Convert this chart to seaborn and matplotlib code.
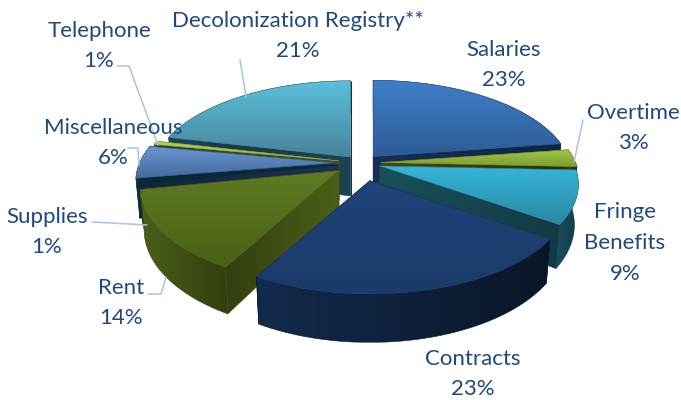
import matplotlib
matplotlib.use("Agg")
import matplotlib.pyplot as plt
import numpy as np
import seaborn as sns
from matplotlib.patches import Polygon

# budget shares, clockwise from 12 o'clock
names = ["Salaries", "Overtime", "Fringe\nBenefits", "Contracts", "Rent", "Supplies",
         "Miscellaneous", "Telephone", "Decolonization Registry**"]
values = [22.7, 3, 9, 23.3, 13.8, 0.6, 5.6, 0.6, 21.4]
explode = [0.095, 0.10, 0.10, 0.20, 0.14, 0.12, 0.135, 0.115, 0.085]

# (top light, top dark, side light, side dark)
colors = [
    ("#3f7fc9", "#2d5c96", "#16305a", "#0f2345"),
    ("#9fc544", "#7c9c33", "#45450f", "#2f2f08"),
    ("#35b5d9", "#2a87a3", "#1a4f5c", "#123a44"),
    ("#1f4479", "#1a3a69", "#122a4c", "#0a1628"),
    ("#5f7b23", "#4a6016", "#4b5f18", "#333f10"),
    ("#052a36", "#052a36", "#1c3050", "#14233c"),
    ("#6a96d3", "#45699b", "#0c3442", "#05252f"),
    ("#aed060", "#95b548", "#4a4f1c", "#3a3f14"),
    ("#5cc0db", "#47849b", "#1c4453", "#163642"),
]
draw_order = [8, 0, 7, 6, 1, 2, 5, 4, 3]

# label centre and leader line for each slice
label_pos = [(504, 65), (633, 128), (625, 243), (473, 374), (121, 303), (47, 232),
             (113, 143), (99, 46), (298, 36)]
leaders = [None, [(583, 120), (574, 162)], None, None,
           [(148, 294), (161, 294), (166, 277)], [(92, 222), (147, 225)],
           [(128, 148), (138, 148), (139, 165)], [(117, 66), (129, 66), (158, 145)],
           [(240, 60), (246, 97)]]

cx, cy = 361, 163
rx, ry = 195, 91
persp = 0.196
depth = 39


def project(u, v, ox, oy, z=0.0):
    s = 1 / (1 + persp * v)
    shrink = 1 - 0.02 * z / depth
    return ox + rx * u * s * shrink, oy - ry * v * s + z * s


def gradient(ax, pts, c1, c2, horizontal, zorder):
    pts = np.array(pts)
    cmap = sns.blend_palette([c1, c2], n_colors=64, as_cmap=True)
    g = np.linspace(0, 1, 128)
    g = g.reshape(1, -1) if horizontal else g.reshape(-1, 1)
    im = ax.imshow(g, cmap=cmap, vmin=0, vmax=1, aspect="auto", zorder=zorder,
                   extent=(pts[:, 0].min(), pts[:, 0].max(), pts[:, 1].max(), pts[:, 1].min()))
    poly = Polygon(pts, closed=True, transform=ax.transData)
    im.set_clip_path(poly)
    # thin outline of the same tone hides the jagged clip edge
    ax.add_patch(Polygon(pts, closed=True, fill=False, edgecolor=c2, lw=0.4, zorder=zorder))


sns.set_theme(style="white")
plt.rcParams["font.family"] = ["Lato", "DejaVu Sans"]

fig = plt.figure(figsize=(6.81, 4.0), dpi=100)
ax = fig.add_axes([0, 0, 1, 1])

total = sum(values)
edges = np.radians(np.concatenate([[0], np.cumsum(values)]) / total * 360)

z = 2
for i in draw_order:
    a0, a1 = edges[i], edges[i + 1]
    mid = (a0 + a1) / 2
    ox = cx + explode[i] * rx * np.sin(mid)
    oy = cy - explode[i] * ry * np.cos(mid)
    t = np.linspace(a0, a1, 60)
    arc = [project(np.sin(a), np.cos(a), ox, oy) for a in t]
    low = [project(np.sin(a), np.cos(a), ox, oy, depth) for a in t]
    apex = (ox, oy)
    apex_low = project(0, 0, ox, oy, depth)
    top_l, top_d, side_l, side_d = colors[i]

    wall0 = [apex, arc[0], low[0], apex_low]
    wall1 = [apex, arc[-1], low[-1], apex_low]
    # the wall facing the viewer goes last: the start wall on the left half, the end wall on the right
    if np.sin(mid) < 0:
        gradient(ax, wall1, side_l, side_d, True, z)
        gradient(ax, wall0, side_d, side_l, True, z + 0.1)
    else:
        gradient(ax, wall0, side_d, side_l, True, z)
        gradient(ax, wall1, side_l, side_d, True, z + 0.1)
    gradient(ax, arc + low[::-1], side_l, side_d, True, z + 0.2)
    gradient(ax, [apex] + arc, top_l, top_d, False, z + 0.3)
    z += 1

for i, name in enumerate(names):
    ax.text(label_pos[i][0], label_pos[i][1], f"{name}\n{round(values[i])}%", ha="center", va="center",
            color="#1f497d", fontsize=16, linespacing=1.68, zorder=30)
    if leaders[i]:
        xs, ys = zip(*leaders[i])
        ax.plot(xs, ys, color="#a6c4e8", lw=1.1, zorder=25)

ax.set_xlim(0, 681)
ax.set_ylim(400, 0)
ax.axis("off")
fig.savefig("out.png", dpi=100, facecolor="white")
